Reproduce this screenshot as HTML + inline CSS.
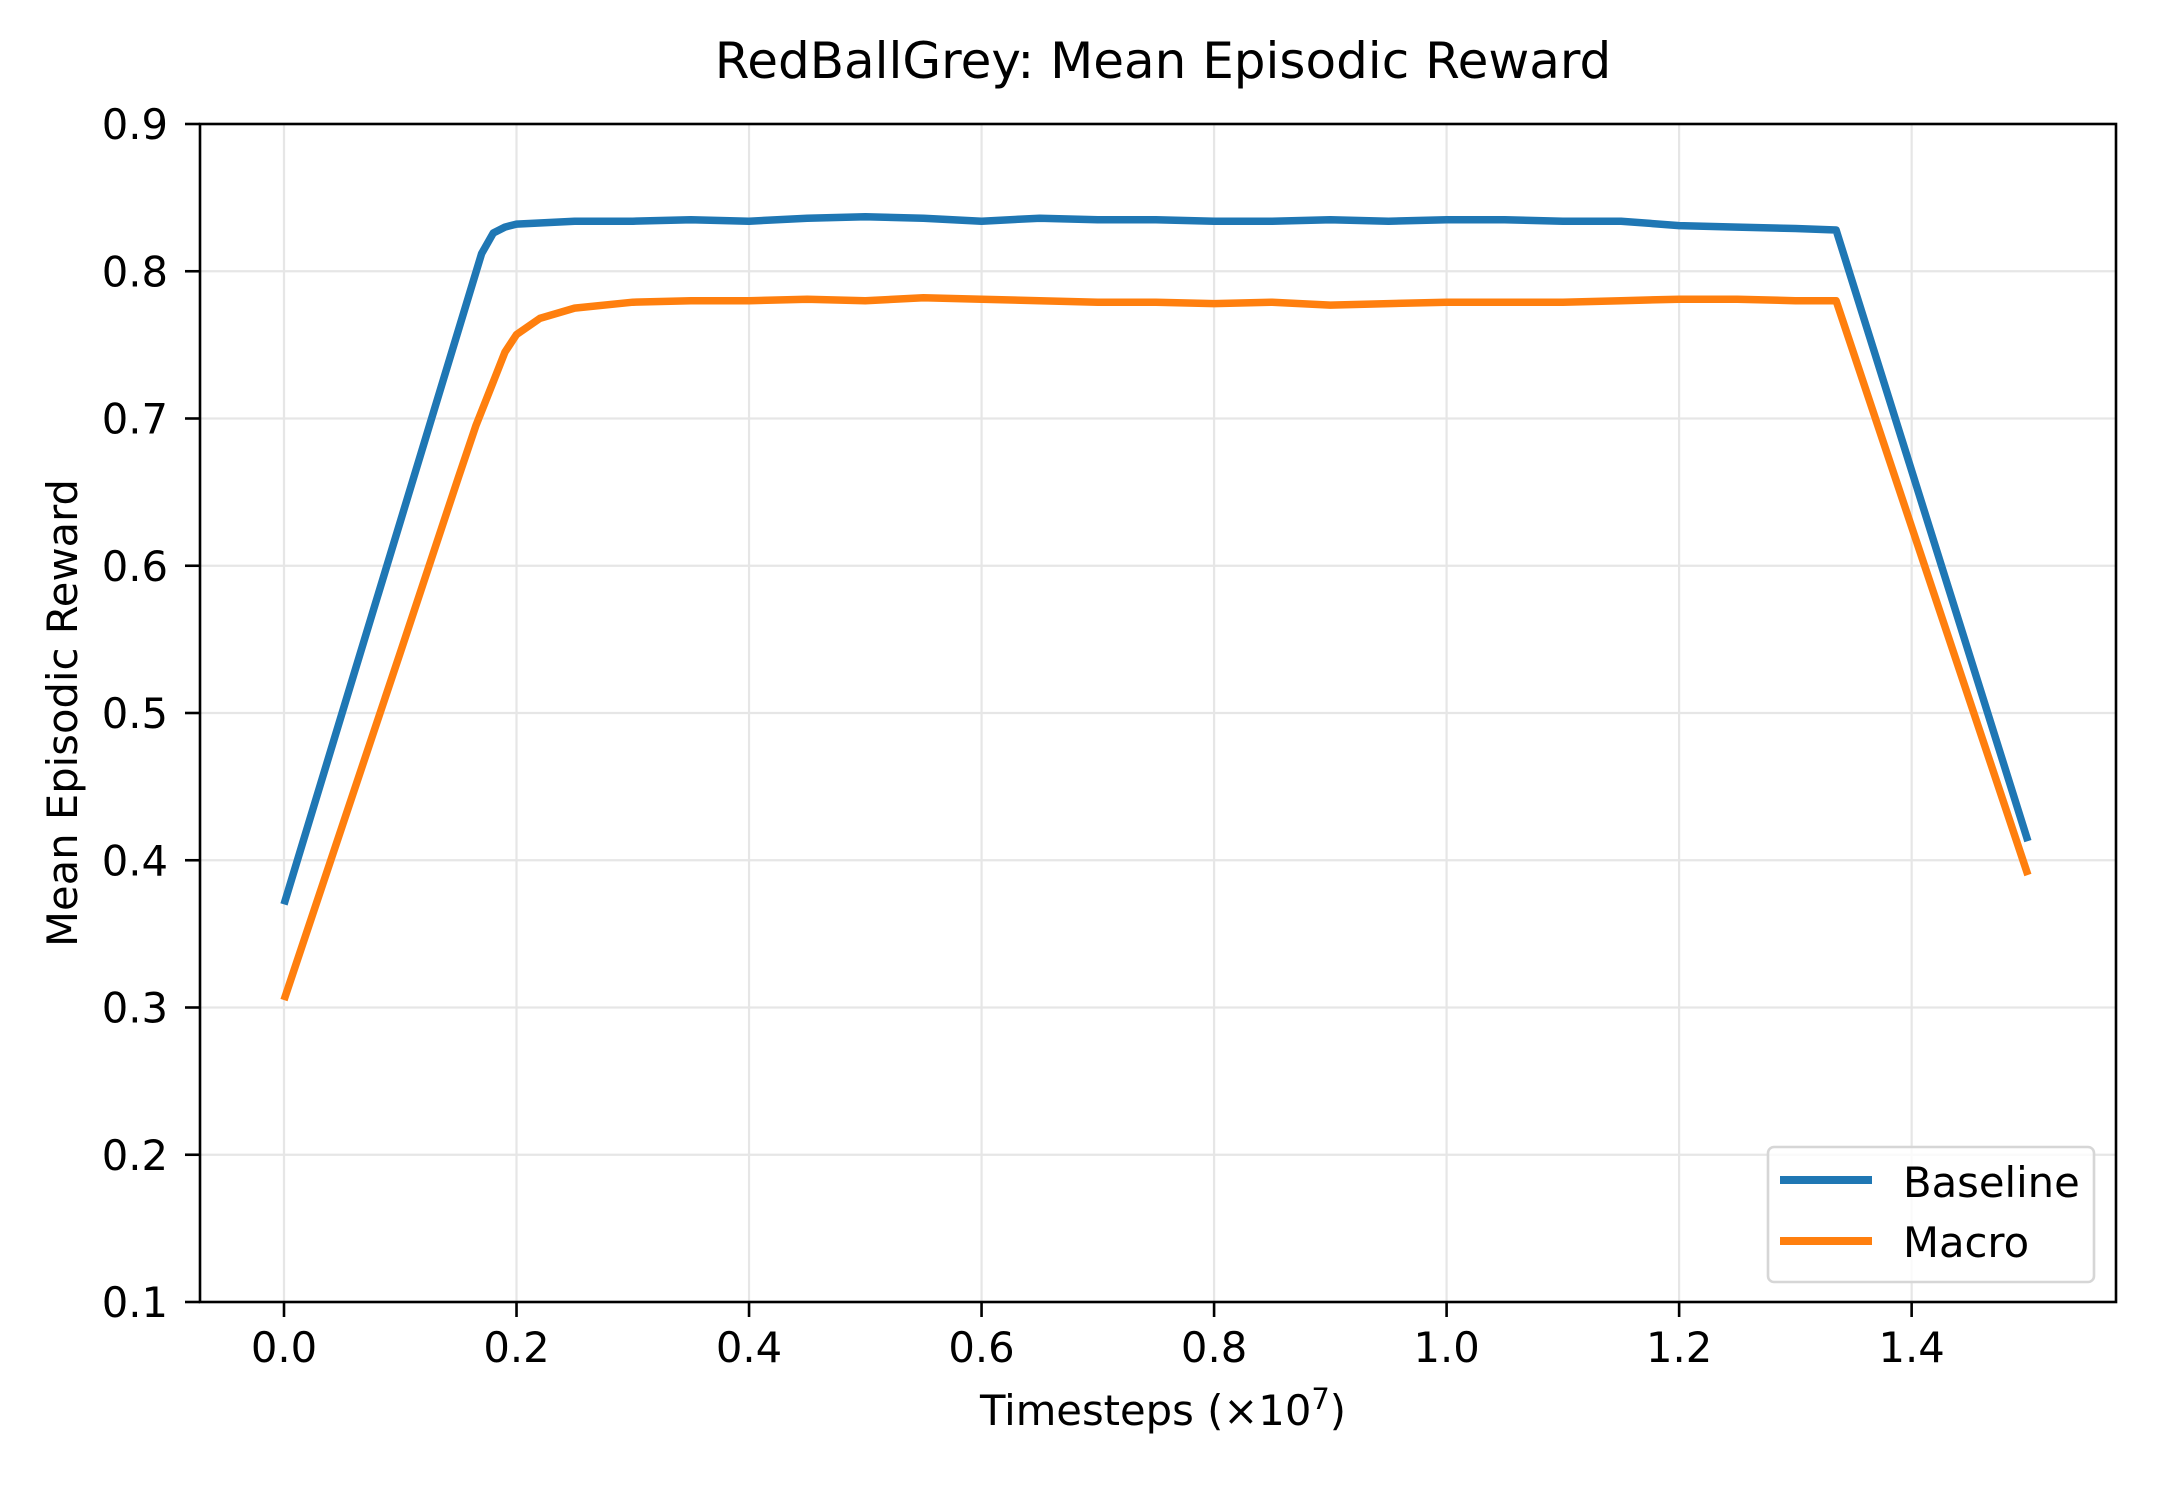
<!DOCTYPE html>
<html><head><meta charset="utf-8"><style>
html,body{margin:0;padding:0;background:#fff;}
svg{display:block;font-family:"DejaVu Sans","Liberation Sans",sans-serif;}
</style></head><body>
<svg id="chart" width="2160" height="1500" viewBox="0 0 2160 1500" xmlns="http://www.w3.org/2000/svg">
<rect width="2160" height="1500" fill="#fff"/>
<text x="1163" y="78" font-size="50" text-anchor="middle">RedBallGrey: Mean Episodic Reward</text>
<g id="grid"></g>
<g id="series"></g>
<rect x="200" y="124" width="1916" height="1178" fill="none" stroke="#000" stroke-width="2.6"/>
<g id="ticks"></g>
<text x="1163" y="1425" font-size="41.7" text-anchor="middle">Timesteps (×10<tspan font-size="29" dy="-16">7</tspan><tspan dy="16">)</tspan></text>
<text transform="translate(77,713) rotate(-90)" font-size="41.7" text-anchor="middle">Mean Episodic Reward</text>
<g>
<rect x="1768" y="1147" width="326" height="135" rx="6" fill="#fff" fill-opacity="0.8" stroke="#d6d6d6" stroke-width="2.6"/>
<line x1="1780" y1="1180" x2="1872" y2="1180" stroke="#1f77b4" stroke-width="8"/>
<text x="1903" y="1197" font-size="41.7">Baseline</text>
<line x1="1780" y1="1241" x2="1872" y2="1241" stroke="#ff7f0e" stroke-width="8"/>
<text x="1903" y="1257" font-size="41.7">Macro</text>
</g>
</svg>
<script>
const xTicks = [0.0,0.2,0.4,0.6,0.8,1.0,1.2,1.4];
const xTickLabels = ["0.0","0.2","0.4","0.6","0.8","1.0","1.2","1.4"];
const yTicks = [0.1,0.2,0.3,0.4,0.5,0.6,0.7,0.8,0.9];
const yTickLabels = ["0.1","0.2","0.3","0.4","0.5","0.6","0.7","0.8","0.9"];
const baselineX = [0,0.05,0.1,0.15,0.17,0.18,0.19,0.2,0.25,0.3,0.35,0.4,0.45,0.5,0.55,0.6,0.65,0.7,0.75,0.8,0.85,0.9,0.95,1.0,1.05,1.1,1.15,1.2,1.25,1.3,1.335,1.5];
const baselineY = [0.37,0.50,0.63,0.76,0.812,0.826,0.830,0.832,0.834,0.834,0.835,0.834,0.836,0.837,0.836,0.834,0.836,0.835,0.835,0.834,0.834,0.835,0.834,0.835,0.835,0.834,0.834,0.831,0.830,0.829,0.828,0.413];
const macroX = [0,0.05,0.1,0.15,0.165,0.18,0.19,0.2,0.22,0.25,0.3,0.35,0.4,0.45,0.5,0.55,0.6,0.65,0.7,0.75,0.8,0.85,0.9,0.95,1.0,1.05,1.1,1.15,1.2,1.25,1.3,1.335,1.5];
const macroY = [0.305,0.423,0.541,0.66,0.695,0.725,0.745,0.757,0.768,0.775,0.779,0.780,0.780,0.781,0.780,0.782,0.781,0.780,0.779,0.779,0.778,0.779,0.777,0.778,0.779,0.779,0.779,0.780,0.781,0.781,0.780,0.780,0.390];

const NS = "http://www.w3.org/2000/svg";
const X0 = 284, XS = 1162.6, Y0 = 1302, YMIN = 0.1, YS = 1472.5;
function xs(v){ return X0 + v*XS; }
function ys(v){ return Y0 - (v-YMIN)*YS; }
function mk(tag, attrs, parent){
  const e = document.createElementNS(NS, tag);
  for (const k in attrs) e.setAttribute(k, attrs[k]);
  parent.appendChild(e);
  return e;
}
const grid = document.getElementById('grid');
const ticks = document.getElementById('ticks');
const series = document.getElementById('series');
xTicks.forEach((t,i)=>{
  const g = mk('line',{x1:xs(t),x2:xs(t),y1:124,y2:1302,stroke:'#e6e6e6','stroke-width':2.2},grid);
  
  
  const tk = mk('line',{x1:xs(t),x2:xs(t),y1:1302,y2:1317,stroke:'#000','stroke-width':2.6},ticks);
  
  
  const lb = mk('text',{x:xs(t),y:1362,'font-size':41.7,'text-anchor':'middle'},ticks);
  lb.textContent = xTickLabels[i];
  
  
});
yTicks.forEach((t,i)=>{
  const g = mk('line',{x1:200,x2:2116,y1:ys(t),y2:ys(t),stroke:'#e6e6e6','stroke-width':2.2},grid);
  
  
  const tk = mk('line',{x1:185,x2:200,y1:ys(t),y2:ys(t),stroke:'#000','stroke-width':2.6},ticks);
  
  
  const lb = mk('text',{x:168,y:ys(t)+15,'font-size':41.7,'text-anchor':'end'},ticks);
  lb.textContent = yTickLabels[i];
  
  
});
function drawLine(xa, ya, color, name){
  const d = xa.map((x,i)=>(i?'L':'M')+xs(x).toFixed(1)+','+ys(ya[i]).toFixed(1)).join(' ');
  const p = mk('path',{d:d,fill:'none',stroke:color,'stroke-width':7.5,'stroke-linejoin':'round'},series);
  
  
}
drawLine(baselineX, baselineY, '#1f77b4', 'baseline-line');
drawLine(macroX, macroY, '#ff7f0e', 'macro-line');
</script>
</body></html>
